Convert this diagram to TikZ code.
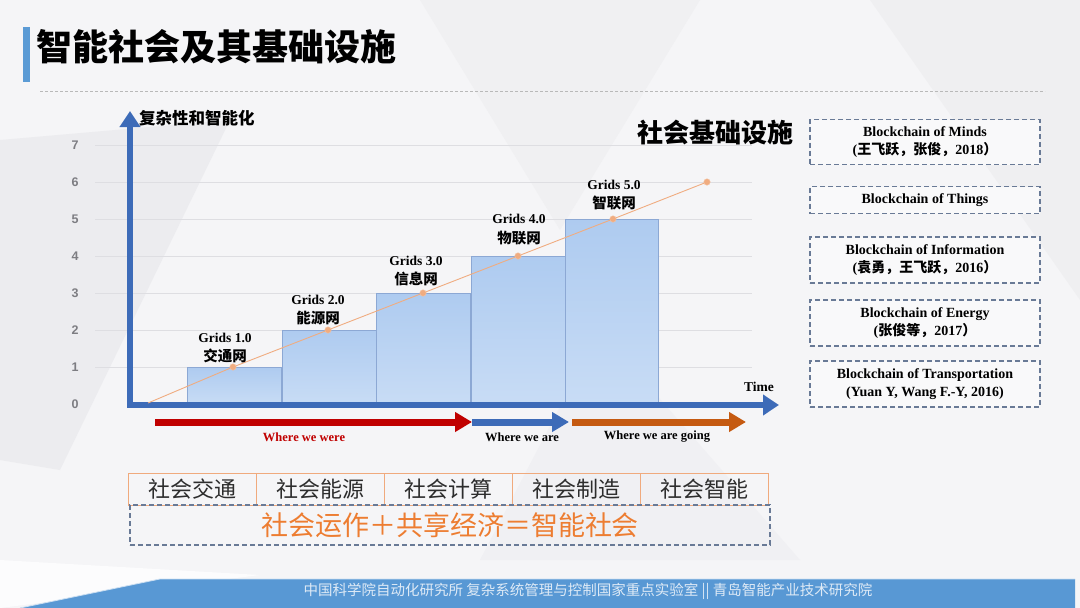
\documentclass[tikz,border=0pt]{standalone}
\usepackage{fontspec}
\setmainfont{Liberation Serif}
\newfontfamily\cjk{Noto Sans CJK SC}
\newfontfamily\numfont{Liberation Sans}
\usetikzlibrary{arrows.meta}
\definecolor{bgc}{RGB}{245,245,247}
\definecolor{bgshape}{RGB}{236,236,239}
\definecolor{axisblue}{RGB}{61,107,184}
\definecolor{titlebar}{RGB}{91,155,213}
\definecolor{footblue}{RGB}{88,152,212}
\definecolor{barfillT}{RGB}{174,203,240}
\definecolor{barfillB}{RGB}{200,220,245}
\definecolor{barline}{RGB}{140,168,212}
\definecolor{lineor}{RGB}{240,172,128}
\definecolor{arrred}{RGB}{192,0,0}
\definecolor{arror}{RGB}{197,90,17}
\definecolor{boxdash}{RGB}{105,122,150}
\definecolor{cellline}{RGB}{240,170,125}
\definecolor{textor}{RGB}{237,125,49}
\definecolor{gridc}{RGB}{222,222,226}
\definecolor{tickc}{RGB}{125,125,130}
\definecolor{celltext}{RGB}{45,45,45}
\tikzset{
  dashbox/.style={draw=boxdash, line width=1.1pt, dash pattern=on 5pt off 3pt, fill=bgc!60!white, minimum width=230pt, align=center, inner sep=2pt, font=\bfseries\fontsize{14}{18}\selectfont},
  gridlab/.style={font=\bfseries\fontsize{13.5}{14}\selectfont},
  cnlab/.style={font=\cjk\bfseries\fontsize{14.5}{15}\selectfont},
  ticklab/.style={font=\numfont\bfseries\fontsize{12.5}{13}\selectfont, text=tickc},
  barstyle/.style={draw=barline, line width=0.6pt, top color=barfillT, bottom color=barfillB},
  marker/.style={circle, fill=lineor, draw=lineor!70!white, inner sep=0pt, minimum size=6.5pt},
  cell/.style={draw=cellline, line width=0.8pt, minimum width=128pt, minimum height=32pt, font=\cjk\fontsize{22}{22}\selectfont, text=celltext, inner sep=0pt},
  bigarrow/.style={line width=7pt, -{Triangle[width=19pt,length=17pt]}},
  wherelab/.style={font=\bfseries\fontsize{12.5}{13}\selectfont}
}
\begin{document}
\begin{tikzpicture}[x=1pt,y=-1pt]
\useasboundingbox (0,0) rectangle (1080,608);
\fill[bgc] (0,0) rectangle (1080,608);
% subtle background facets
\fill[bgshape] (0,140) -- (230,120) -- (60,470) -- (0,460) -- cycle;
\fill[bgshape!60!bgc] (420,0) -- (700,0) -- (560,230) -- cycle;
\fill[bgshape!70!bgc] (870,0) -- (1080,0) -- (1080,300) -- cycle;
\fill[bgshape!50!bgc] (600,330) -- (800,560) -- (480,560) -- cycle;
\fill[white!70!bgc] (0,560) -- (260,575) -- (0,608) -- cycle;

% title
\fill[titlebar] (23,27) rectangle (30,82);
\node[anchor=west, inner sep=0pt, font=\cjk\bfseries\fontsize{36}{36}\selectfont] (title) at (36,47) {智能社会及其基础设施};
\draw[gray!55, line width=0.7pt, dash pattern=on 3pt off 2pt] (40,91) -- (1045,91);

% grid lines and ticks
\foreach \k in {1,...,7}{
  \draw[gridc, line width=0.8pt] (95,{404-37*\k}) -- (752,{404-37*\k});
}
\foreach \k in {0,...,7}{
  \node[ticklab] (t\k) at (75,{404-37*\k}) {\k};
}

% bars
\foreach \i/\xl/\xr in {1/187/281, 2/282/376, 3/376/470, 4/471/565, 5/565/658}{
  \path[barstyle] (\xl,404) rectangle (\xr,{404-37*\i});
}

% axes
\draw[axisblue, line width=6pt, line join=miter, {Triangle[width=20pt,length=16pt]}-{Triangle[width=20pt,length=16pt]}] (130,111) -- (130,405) -- (779,405);
\node[anchor=west, inner sep=0pt, font=\cjk\bfseries\fontsize{16.5}{17}\selectfont] (ylab) at (139,118) {复杂性和智能化};
\node[inner sep=0pt, font=\bfseries\fontsize{13.5}{14}\selectfont] (time) at (759,387) {Time};

% orange trend line
\coordinate (m0) at (148,403);
\node[marker] (m1) at (233,367) {};
\node[marker] (m2) at (328,330) {};
\node[marker] (m3) at (423,293) {};
\node[marker] (m4) at (518,256) {};
\node[marker] (m5) at (613,219) {};
\node[marker] (m6) at (707,182) {};
\draw[lineor, line width=0.9pt] (m0) -- (m1) -- (m2) -- (m3) -- (m4) -- (m5) -- (m6);

% grid labels
\node[gridlab] (g1) at (225,338) {Grids 1.0};
\node[cnlab] (c1) at (225,356) {交通网};
\node[gridlab] (g2) at (318,300) {Grids 2.0};
\node[cnlab] (c2) at (318,318) {能源网};
\node[gridlab] (g3) at (416,261) {Grids 3.0};
\node[cnlab] (c3) at (416,279) {信息网};
\node[gridlab] (g4) at (519,219) {Grids 4.0};
\node[cnlab] (c4) at (519,238) {物联网};
\node[gridlab] (g5) at (614,185) {Grids 5.0};
\node[cnlab] (c5) at (614,203) {智联网};

% big label
\node[inner sep=0pt, font=\cjk\bfseries\fontsize{26}{26}\selectfont] (infra) at (715,133) {社会基础设施};

% right dashed boxes
\node[dashbox, minimum height=45pt] (b1) at (925,142) {Blockchain of Minds\\({\cjk\bfseries 王飞跃，张俊，}2018{\cjk\bfseries ）}};
\node[dashbox, minimum height=27pt] (b2) at (925,200) {Blockchain of Things};
\node[dashbox, minimum height=46pt] (b3) at (925,260) {Blockchain of Information\\({\cjk\bfseries 袁勇，王飞跃，}2016{\cjk\bfseries ）}};
\node[dashbox, minimum height=46pt] (b4) at (925,323) {Blockchain of Energy\\({\cjk\bfseries 张俊等，}2017{\cjk\bfseries ）}};
\node[dashbox, minimum height=46pt] (b5) at (925,384) {Blockchain of Transportation\\(Yuan Y, Wang F.-Y, 2016)};

% era arrows
\coordinate (r0) at (155,422);
\coordinate (r1) at (472,422);
\coordinate (u1) at (569,422);
\coordinate (o0) at (572,422);
\coordinate (o1) at (746,422);
\draw[bigarrow, arrred] (r0) -- (r1);
\draw[bigarrow, axisblue] (r1) -- (u1);
\draw[bigarrow, arror] (o0) -- (o1);
\node[wherelab, text=arrred] (w1) at (304,437) {Where we were};
\node[wherelab] (w2) at (522,437) {Where we are};
\node[wherelab] (w3) at (657,437) {Where we are going};

% table
\node[cell] (s1) at (192,489) {社会交通};
\node[cell] (s2) at (320,489) {社会能源};
\node[cell] (s3) at (448,489) {社会计算};
\node[cell] (s4) at (576,489) {社会制造};
\node[cell] (s5) at (704,489) {社会智能};
\node[draw=boxdash, line width=1.1pt, dash pattern=on 5pt off 3pt, minimum width=640pt, minimum height=40pt, inner sep=0pt, font=\cjk\fontsize{27}{27}\selectfont, text=textor] (sum) at (450,525) {社会运作＋共享经济＝智能社会};

% footer
\fill[footblue] (20,608) -- (160,579) -- (1075,579) -- (1075,608) -- cycle;
\draw[white!70!footblue, line width=0.8pt] (20,608) -- (160,579) -- (1075,579);
\node[inner sep=0pt, font=\cjk\fontsize{14.5}{14.5}\selectfont, text=white!80!footblue] (foot) at (588,591) {中国科学院自动化研究所 复杂系统管理与控制国家重点实验室 || 青岛智能产业技术研究院};
\end{tikzpicture}
\end{document}
